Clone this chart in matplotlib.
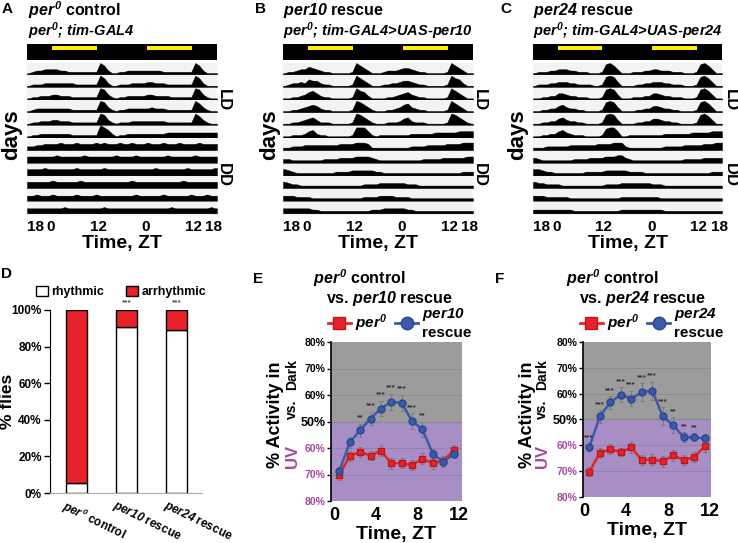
import numpy as np
import matplotlib
matplotlib.use('Agg')
import matplotlib.pyplot as plt
from matplotlib.patches import Rectangle, Patch
from matplotlib.lines import Line2D
from matplotlib.transforms import ScaledTranslation

plt.rcParams['font.family'] = ['Liberation Sans', 'DejaVu Sans']
plt.rcParams['font.weight'] = 'bold'
plt.rcParams['axes.labelweight'] = 'bold'
# math text is only used for the italic gene names
plt.rcParams['mathtext.fontset'] = 'custom'
plt.rcParams['mathtext.rm'] = 'Liberation Sans:italic:bold'
plt.rcParams['mathtext.it'] = 'Liberation Sans:italic:bold'
plt.rcParams['mathtext.bf'] = 'Liberation Sans:italic:bold'

W, H = 738, 543
RED = '#e8222a'
BLUE = '#3a5aa8'
PURPLE = '#a8479f'
PER0 = r'$\mathit{per}^{\mathit{0}}$'

# actograms: 12 rows x 48 hourly bins (ZT18 -> ZT18, double plotted), activity level 0-9
act_A = [
    "012233" "332211111111" "862001" "122222" "222211111111" "862000",
    "011122" "222222111111" "862001" "112222" "332221111111" "862000",
    "011222" "332221111111" "873101" "122222" "332222111111" "873100",
    "012222" "222221111111" "873101" "122222" "232221111111" "863100",
    "011222" "332221111111" "873101" "112222" "222221111111" "863100",
    "011222" "222221111111" "975201" "122222" "222223333333" "333333",
    "223344" "445444544445" "454445" "445444" "544454445444" "454444",
    "444444" "454444445444" "444454" "444544" "444445444444" "544444",
    "444454" "444444544444" "454444" "444444" "445444444454" "444445",
    "444444" "544444454444" "444444" "445444" "444444444544" "444444",
    "334333" "433333433334" "333333" "333433" "333343333334" "333433",
    "333333" "333433333333" "343333" "333333" "333333433333" "333343",
]
act_B = [
    "011233" "543211000001" "864200" "012223" "443211000001" "864200",
    "012232" "544211000001" "864200" "011223" "443211000001" "865200",
    "001123" "564211000001" "865200" "001123" "453211000001" "864200",
    "001123" "454211000001" "875310" "001123" "563211000001" "864200",
    "001123" "453111000001" "875310" "001112" "452111000001" "875310",
    "001112" "452110000001" "777410" "111111" "112222223333" "334444",
    "112223" "333333334444" "555411" "111111" "112222333334" "444555",
    "221111" "111122223333" "444432" "111111" "111112222233" "333344",
    "432111" "111111122223" "333332" "211111" "111111111111" "111222",
    "432211" "111111111111" "112222" "333333" "322211111111" "111111",
    "333222" "211111111111" "112222" "333322" "221111111111" "111111",
    "333333" "322111111111" "111122" "233333" "322111111111" "111111",
]
act_C = [
    "011122" "333221110001" "786300" "011122" "332221110001" "786300",
    "011122" "333221111001" "787300" "001122" "333221110001" "786300",
    "001122" "443221110001" "787300" "011122" "443221110001" "786300",
    "001122" "453221100001" "787300" "001122" "443221100001" "786300",
    "001122" "453221100001" "787300" "001122" "443221100001" "786300",
    "001122" "453211100001" "677400" "111111" "111222222233" "333444",
    "111222" "222333333344" "445552" "111111" "111222223333" "344455",
    "321111" "111122223333" "444553" "211111" "111111112222" "233333",
    "443221" "111111122222" "333333" "222211" "111111111111" "111222",
    "433222" "211111111111" "222233" "333333" "222111111111" "111111",
    "333222" "222111111111" "111122" "222222" "221111111111" "111111",
    "222222" "222211111111" "111122" "222222" "222111111111" "111111",
]
tick_hr = [0, 6, 18, 30, 42, 48]
tick_zt = ['18', '0', '12', '0', '12', '18']
light_on = [6, 30]
light_len = 12

# D: rhythmicity
genotypes = [PER0 + ' control', r'$\mathit{per10}$ rescue', r'$\mathit{per24}$ rescue']
rhythmic = [5.3, 90.9, 89.0]
arrhythmic = [94.7, 9.1, 11.0]
d_sig = ['', '***', '***']

# E/F: % activity in dark (vs UV)
zt = [0.5, 1.5, 2.5, 3.5, 4.5, 5.5, 6.5, 7.5, 8.5, 9.5, 10.5, 11.5]
per0_E = [29.8, 37.0, 38.5, 37.1, 39.0, 34.2, 34.3, 33.6, 36.0, 34.2, 35.2, 39.2]
per0_E_err = [1.8, 2.0, 2.0, 1.6, 2.0, 2.0, 2.0, 2.0, 2.2, 2.0, 1.8, 2.0]
per10 = [31.3, 42.1, 46.7, 51.1, 54.9, 57.4, 57.0, 50.1, 47.0, 37.7, 34.8, 37.7]
per10_err = [1.5, 2.0, 2.5, 2.5, 3.0, 3.0, 3.0, 3.0, 3.0, 2.0, 2.0, 1.5]
per10_sig = ['', '', '**', '***', '***', '***', '***', '***', '**', '', '', '']
per0_F = [29.8, 37.0, 38.6, 37.3, 39.2, 34.3, 34.5, 33.8, 36.1, 34.3, 35.5, 39.6]
per0_F_err = [1.8, 2.0, 2.0, 1.6, 2.2, 2.0, 2.0, 2.0, 2.2, 2.0, 2.0, 2.0]
per24 = [39.2, 51.2, 56.6, 59.6, 58.1, 60.5, 61.2, 51.2, 47.8, 43.1, 43.1, 42.7]
per24_err = [1.5, 2.5, 2.5, 3.0, 3.0, 3.5, 3.5, 3.5, 3.0, 2.0, 1.5, 1.5]
per24_sig = ['***', '***', '***', '***', '***', '***', '***', '***', '**', '**', '**', '']
uv_ticks = [20, 30, 40, 50, 60, 70, 80]
uv_labels = ['80%', '70%', '60%', '50%', '60%', '70%', '80%']

fig = plt.figure(figsize=(W / 100, H / 100), dpi=100)


def box(l, t, r, b):
    return [l / W, 1 - b / H, (r - l) / W, (b - t) / H]


def ftext(x, y, s, **kw):
    return fig.text(x / W, 1 - y / H, s, **kw)


def shift(lab, dx):
    lab.set_transform(lab.get_transform() + ScaledTranslation(dx / 100, 0, fig.dpi_scale_trans))


def actogram(l, r, rows, ld_x):
    ax = fig.add_axes(box(l, 44, r, 214))
    n = len(rows)
    xc = np.r_[0, np.arange(48) + 0.5, 48]
    for i, row in enumerate(rows):
        act = np.array([int(c) for c in row], dtype=float)
        act = np.r_[act[0], act, act[-1]]
        base = n - 1 - i
        ax.add_patch(Rectangle((0, base), 48, 0.93, facecolor='#f3f3f3', lw=0))
        ax.fill_between(xc, base, base + np.minimum(0.1 + act * 0.1, 0.97),
                        color='black', lw=0.3)
    top = n + 0.1
    ax.add_patch(Rectangle((0, top), 48, 1.27, facecolor='black', lw=0))
    for h in light_on:
        ax.add_patch(Rectangle((h + 0.3, top + 0.82), light_len - 0.7, 0.34,
                               facecolor='#ffee00', lw=0))
    ax.set_xlim(0, 48)
    ax.set_ylim(-0.05, n + 1.4)
    ax.set_yticks([])
    ax.set_xticks(tick_hr, tick_zt)
    ax.tick_params(axis='x', length=0, labelsize=11, pad=4)
    labs = ax.get_xticklabels()
    shift(labs[0], 8)
    shift(labs[-1], -3)
    for s in ax.spines.values():
        s.set_visible(False)
    ax.set_xlabel('Time, ZT', fontsize=14, labelpad=1)
    ftext(ld_x, 100, 'LD', rotation=270, fontsize=12, ha='center', va='center')
    ftext(ld_x, 175, 'DD', rotation=270, fontsize=12, ha='center', va='center')
    return ax


# ---- A, B, C
actogram(27, 217, act_A, 223)
actogram(283, 473, act_B, 479)
actogram(533, 722, act_C, 730)

for x, lab in [(7, 'A'), (261, 'B'), (506, 'C')]:
    ftext(x, 9, lab, fontsize=11, ha='center', va='center')
for x, t1, t2 in [(28, PER0 + ' control', PER0 + '; tim-GAL4'),
                  (283, r'$\mathit{per10}$ rescue', PER0 + '; tim-GAL4>UAS-per10'),
                  (533, r'$\mathit{per24}$ rescue', PER0 + '; tim-GAL4>UAS-per24')]:
    ftext(x, 10, t1, fontsize=11.5, va='center')
    ftext(x, 31, t2, fontsize=10.5, style='italic', va='center')
for x in [12, 270, 518]:
    ftext(x, 135, 'days', rotation=90, fontsize=16, ha='center', va='center')

# ---- D
axD = fig.add_axes(box(50, 310, 202, 493))
xpos = np.arange(len(genotypes))
axD.bar(xpos, rhythmic, width=0.42, color='white', edgecolor='black', lw=1)
axD.bar(xpos, arrhythmic, bottom=rhythmic, width=0.42, color=RED, edgecolor='black', lw=1)
for x, s in zip(xpos, d_sig):
    if s:
        axD.text(x, 104, s, ha='center', va='center', fontsize=6, color='#555555')
axD.set_xlim(-0.52, 2.5)
axD.set_ylim(0, 100)
axD.set_yticks([0, 20, 40, 60, 80, 100], [f'{v}%' for v in range(0, 101, 20)])
axD.tick_params(axis='y', labelsize=8.5, length=4, width=1, direction='out', pad=2)
axD.set_xticks(xpos, genotypes, rotation=-26, ha='left', rotation_mode='anchor', fontsize=8.5)
axD.tick_params(axis='x', length=0, pad=3)
for lab in axD.get_xticklabels():
    shift(lab, -9)
axD.spines['top'].set_visible(False)
axD.spines['right'].set_visible(False)
axD.spines['bottom'].set_color('#aaaaaa')
axD.spines['bottom'].set_linewidth(0.8)
ftext(8, 401, '% flies', rotation=90, fontsize=12.5, ha='center', va='center')
fig.legend(handles=[Patch(facecolor='white', edgecolor='black', lw=1),
                    Patch(facecolor=RED, edgecolor='black', lw=1)],
           labels=['rhythmic', 'arrhythmic'], loc='center left',
           bbox_to_anchor=(36 / W, 1 - 292 / H), ncol=2, frameon=False,
           handlelength=0.95, handleheight=0.95, handletextpad=0.25,
           columnspacing=1.8, fontsize=9, borderpad=0, borderaxespad=0)
ftext(6, 274, 'D', fontsize=11, ha='center', va='center')


# ---- E, F
def uv_panel(l, t, r, b, xlim, ctrl, ctrl_err, resc, resc_err, sig, name, lx):
    ax = fig.add_axes(box(l, t, r, b))
    ax.axhspan(50, 80, color='#9c9c9c', lw=0, zorder=0)
    ax.axhspan(20, 50, color='#a78fc5', lw=0, zorder=0)
    for g in [30, 40, 60, 70]:
        ax.axhline(g, color='#8c8c8c' if g > 50 else '#957bb6', lw=0.6, zorder=1)
    ax.axhline(50, color='#6f7f5f', lw=0.9, ls=(0, (1, 1)), zorder=1)
    ax.errorbar(zt, ctrl, yerr=ctrl_err, fmt='none', ecolor='#7a7a7a',
                elinewidth=0.7, capsize=1.5, capthick=0.7, zorder=2)
    ax.errorbar(zt, resc, yerr=resc_err, fmt='none', ecolor='#7a7a7a',
                elinewidth=0.7, capsize=1.5, capthick=0.7, zorder=2)
    ax.plot(zt, ctrl, color=RED, lw=1.8, marker='s', ms=4.5, mec='#b81818', zorder=3)
    ax.plot(zt, resc, color=BLUE, lw=1.8, marker='o', ms=5, mec='#2a4690', zorder=3)
    for x, y, e, s in zip(zt, resc, resc_err, sig):
        if s:
            ax.text(x, y + e + 2.2, s, ha='center', va='center', fontsize=6,
                    color='#333333', clip_on=False)
    ax.set_xlim(*xlim)
    ax.set_ylim(20, 80)
    ax.set_yticks(uv_ticks, uv_labels)
    for v, lab in zip(uv_ticks, ax.get_yticklabels()):
        lab.set_fontsize(9 if v == 50 else 7.5)
        lab.set_color(PURPLE if v < 50 else 'black')
    ax.tick_params(axis='y', length=3, width=1, pad=1)
    ax.set_xticks([0, 4, 8, 12])
    ax.tick_params(axis='x', length=0, labelsize=13, pad=4)
    for s in ['top', 'right', 'bottom']:
        ax.spines[s].set_visible(False)
    ax.spines['left'].set_linewidth(1.2)
    ax.set_xlabel('Time, ZT', fontsize=14, labelpad=2)
    fig.legend(handles=[Line2D([], [], color=RED, lw=2, marker='s', ms=8, mec='#b81818'),
                        Line2D([], [], color=BLUE, lw=2, marker='o', ms=9, mec='#2a4690')],
               labels=[PER0, r'$\mathit{' + name + '}$' + '\nrescue'], ncol=2,
               loc='center left', bbox_to_anchor=(lx / W, 1 - 323 / H), frameon=False,
               fontsize=11, handlelength=1.5, handletextpad=0.25, columnspacing=0.5,
               borderpad=0, borderaxespad=0)
    return ax


uv_panel(331, 342, 462, 501, (-0.3, 12.3), per0_E, per0_E_err, per10, per10_err,
         per10_sig, 'per10', 328)
uv_panel(583, 342, 711, 497, (-0.1, 12.1), per0_F, per0_F_err, per24, per24_err,
         per24_sig, 'per24', 580)

for x0, xl, lab, resc in [(258, 313, 'E', 'per10'), (500, 566, 'F', 'per24')]:
    ftext(x0, 279, lab, fontsize=11, ha='center', va='center')
    ftext(xl, 278, PER0 + ' control', fontsize=11.5, va='center')
    ftext(xl + 13, 298, r'vs. $\mathit{' + resc + '}$ rescue', fontsize=11.5, va='center')

for xa, xb in [(276, 292), (527, 542)]:
    ftext(xa, 415, '% Activity in', rotation=90, fontsize=13, ha='center', va='center')
    ftext(xb, 375, 'Dark', rotation=90, fontsize=10, ha='center', va='center')
    ftext(xb, 409, 'vs.', rotation=90, fontsize=10, ha='center', va='center')
    ftext(xb, 456, 'UV', rotation=90, fontsize=12, ha='center', va='center', color=PURPLE)

fig.savefig('out.png', dpi=100)
